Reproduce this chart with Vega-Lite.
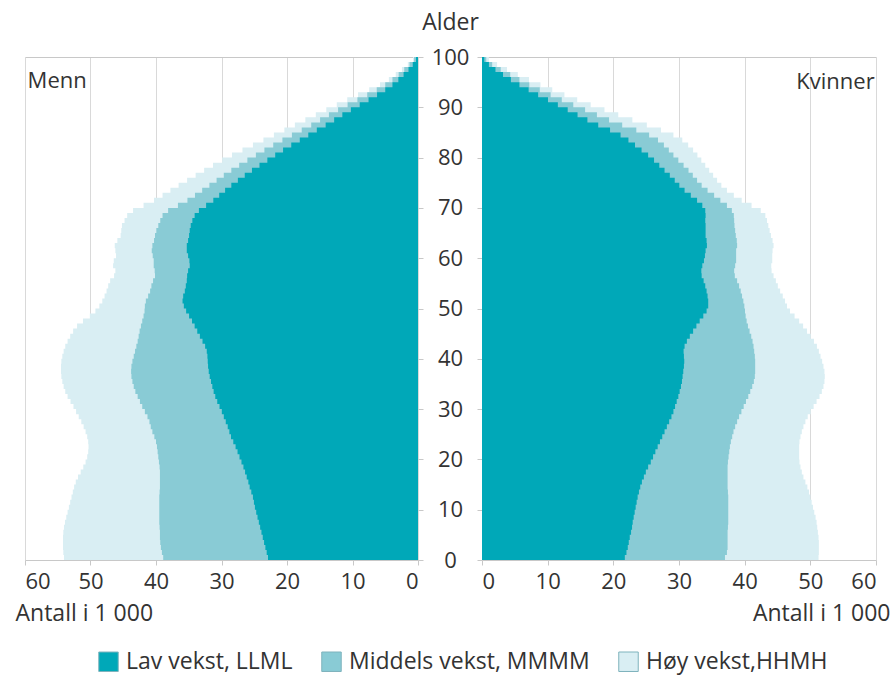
{
  "$schema": "https://vega.github.io/schema/vega-lite/v6.json",
  "padding": {"left": 15, "top": 11, "right": 5, "bottom": 8},
  "bounds": "flush",
  "spacing": 64,
  "config": {
    "font": "Open Sans",
    "view": {"stroke": null},
    "axis": {
      "labelFont": "Open Sans", "labelFontSize": 22, "labelColor": "#333333",
      "titleFont": "Open Sans", "titleFontSize": 23, "titleFontWeight": "normal", "titleColor": "#333333",
      "gridColor": "#d9d9d9", "domainColor": "#c8c8c8", "tickColor": "#c8c8c8"
    },
    "legend": {"labelFont": "Open Sans", "labelFontSize": 23, "labelColor": "#333333", "labelLimit": 400}
  },
  "datasets": {
    "pop": [
      {"a":0,"mL":22.8,"mM":38.8,"mH":54.0,"fL":21.6,"fM":36.8,"fH":51.2},
      {"a":1,"mL":23.0,"mM":39.0,"mH":54.1,"fL":21.9,"fM":37.2,"fH":51.3},
      {"a":2,"mL":23.2,"mM":39.2,"mH":54.2,"fL":22.1,"fM":37.4,"fH":51.3},
      {"a":3,"mL":23.4,"mM":39.3,"mH":54.2,"fL":22.3,"fM":37.4,"fH":51.3},
      {"a":4,"mL":23.6,"mM":39.4,"mH":54.2,"fL":22.4,"fM":37.4,"fH":51.3},
      {"a":5,"mL":23.8,"mM":39.4,"mH":54.2,"fL":22.6,"fM":37.4,"fH":51.2},
      {"a":6,"mL":24.0,"mM":39.4,"mH":54.1,"fL":22.8,"fM":37.4,"fH":51.1},
      {"a":7,"mL":24.2,"mM":39.5,"mH":54.0,"fL":22.9,"fM":37.5,"fH":51.0},
      {"a":8,"mL":24.4,"mM":39.5,"mH":53.8,"fL":23.0,"fM":37.5,"fH":50.9},
      {"a":9,"mL":24.6,"mM":39.5,"mH":53.6,"fL":23.2,"fM":37.5,"fH":50.7},
      {"a":10,"mL":24.8,"mM":39.5,"mH":53.4,"fL":23.3,"fM":37.5,"fH":50.5},
      {"a":11,"mL":25.0,"mM":39.5,"mH":53.2,"fL":23.5,"fM":37.5,"fH":50.3},
      {"a":12,"mL":25.1,"mM":39.5,"mH":53.0,"fL":23.6,"fM":37.5,"fH":50.1},
      {"a":13,"mL":25.3,"mM":39.5,"mH":52.8,"fL":23.8,"fM":37.5,"fH":49.9},
      {"a":14,"mL":25.6,"mM":39.4,"mH":52.6,"fL":24.0,"fM":37.4,"fH":49.7},
      {"a":15,"mL":25.8,"mM":39.4,"mH":52.4,"fL":24.2,"fM":37.4,"fH":49.4},
      {"a":16,"mL":26.0,"mM":39.4,"mH":52.1,"fL":24.5,"fM":37.4,"fH":49.1},
      {"a":17,"mL":26.3,"mM":39.4,"mH":51.7,"fL":24.8,"fM":37.4,"fH":48.8},
      {"a":18,"mL":26.5,"mM":39.4,"mH":51.3,"fL":25.1,"fM":37.4,"fH":48.6},
      {"a":19,"mL":26.8,"mM":39.5,"mH":50.9,"fL":25.5,"fM":37.4,"fH":48.4},
      {"a":20,"mL":27.1,"mM":39.6,"mH":50.6,"fL":25.9,"fM":37.5,"fH":48.3},
      {"a":21,"mL":27.4,"mM":39.7,"mH":50.4,"fL":26.2,"fM":37.6,"fH":48.3},
      {"a":22,"mL":27.7,"mM":39.8,"mH":50.3,"fL":26.6,"fM":37.7,"fH":48.3},
      {"a":23,"mL":28.0,"mM":39.9,"mH":50.3,"fL":26.9,"fM":37.8,"fH":48.3},
      {"a":24,"mL":28.4,"mM":40.1,"mH":50.4,"fL":27.3,"fM":38.0,"fH":48.4},
      {"a":25,"mL":28.7,"mM":40.4,"mH":50.6,"fL":27.6,"fM":38.2,"fH":48.6},
      {"a":26,"mL":28.9,"mM":40.7,"mH":50.9,"fL":28.0,"fM":38.4,"fH":48.8},
      {"a":27,"mL":29.2,"mM":40.9,"mH":51.2,"fL":28.3,"fM":38.7,"fH":49.1},
      {"a":28,"mL":29.5,"mM":41.1,"mH":51.6,"fL":28.7,"fM":39.0,"fH":49.4},
      {"a":29,"mL":29.8,"mM":41.5,"mH":52.0,"fL":29.0,"fM":39.3,"fH":49.8},
      {"a":30,"mL":30.1,"mM":41.9,"mH":52.4,"fL":29.3,"fM":39.7,"fH":50.3},
      {"a":31,"mL":30.5,"mM":42.3,"mH":52.8,"fL":29.5,"fM":40.0,"fH":50.7},
      {"a":32,"mL":30.8,"mM":42.6,"mH":53.3,"fL":29.8,"fM":40.4,"fH":51.2},
      {"a":33,"mL":31.1,"mM":43.0,"mH":53.7,"fL":30.0,"fM":40.7,"fH":51.6},
      {"a":34,"mL":31.3,"mM":43.3,"mH":54.0,"fL":30.2,"fM":41.0,"fH":51.9},
      {"a":35,"mL":31.5,"mM":43.5,"mH":54.2,"fL":30.4,"fM":41.3,"fH":52.1},
      {"a":36,"mL":31.7,"mM":43.7,"mH":54.4,"fL":30.5,"fM":41.5,"fH":52.2},
      {"a":37,"mL":31.9,"mM":43.8,"mH":54.5,"fL":30.6,"fM":41.6,"fH":52.2},
      {"a":38,"mL":32.0,"mM":43.8,"mH":54.5,"fL":30.7,"fM":41.6,"fH":52.1},
      {"a":39,"mL":32.1,"mM":43.7,"mH":54.5,"fL":30.8,"fM":41.6,"fH":51.9},
      {"a":40,"mL":32.1,"mM":43.5,"mH":54.4,"fL":30.8,"fM":41.6,"fH":51.7},
      {"a":41,"mL":32.2,"mM":43.3,"mH":54.2,"fL":30.7,"fM":41.5,"fH":51.4},
      {"a":42,"mL":32.3,"mM":43.1,"mH":54.0,"fL":30.7,"fM":41.4,"fH":51.2},
      {"a":43,"mL":32.7,"mM":42.9,"mH":53.7,"fL":31.0,"fM":41.3,"fH":50.8},
      {"a":44,"mL":33.1,"mM":42.7,"mH":53.3,"fL":31.4,"fM":41.1,"fH":50.3},
      {"a":45,"mL":33.5,"mM":42.6,"mH":52.9,"fL":31.9,"fM":40.9,"fH":49.8},
      {"a":46,"mL":33.9,"mM":42.4,"mH":52.4,"fL":32.4,"fM":40.6,"fH":49.2},
      {"a":47,"mL":34.3,"mM":42.2,"mH":51.7,"fL":32.9,"fM":40.4,"fH":48.6},
      {"a":48,"mL":34.7,"mM":42.0,"mH":50.6,"fL":33.4,"fM":40.2,"fH":48.0},
      {"a":49,"mL":35.2,"mM":41.8,"mH":49.6,"fL":34.0,"fM":40.1,"fH":47.2},
      {"a":50,"mL":35.6,"mM":41.7,"mH":48.9,"fL":34.4,"fM":40.0,"fH":46.6},
      {"a":51,"mL":35.9,"mM":41.7,"mH":48.4,"fL":34.5,"fM":39.9,"fH":46.3},
      {"a":52,"mL":36.0,"mM":41.4,"mH":48.0,"fL":34.4,"fM":39.7,"fH":46.0},
      {"a":53,"mL":35.7,"mM":41.0,"mH":47.7,"fL":34.3,"fM":39.5,"fH":45.6},
      {"a":54,"mL":35.5,"mM":40.8,"mH":47.4,"fL":34.1,"fM":39.3,"fH":45.2},
      {"a":55,"mL":35.4,"mM":40.6,"mH":47.2,"fL":33.9,"fM":39.0,"fH":44.9},
      {"a":56,"mL":35.2,"mM":40.3,"mH":46.8,"fL":33.6,"fM":38.7,"fH":44.6},
      {"a":57,"mL":35.3,"mM":40.0,"mH":46.0,"fL":33.3,"fM":38.3,"fH":44.2},
      {"a":58,"mL":34.9,"mM":40.4,"mH":46.4,"fL":33.5,"fM":38.5,"fH":44.0},
      {"a":59,"mL":34.8,"mM":40.3,"mH":46.7,"fL":33.6,"fM":38.6,"fH":44.1},
      {"a":60,"mL":35.0,"mM":40.4,"mH":46.2,"fL":34.0,"fM":38.8,"fH":44.3},
      {"a":61,"mL":35.2,"mM":40.6,"mH":46.0,"fL":33.9,"fM":38.6,"fH":44.1},
      {"a":62,"mL":35.4,"mM":40.7,"mH":46.4,"fL":34.2,"fM":38.8,"fH":44.4},
      {"a":63,"mL":35.2,"mM":40.4,"mH":46.2,"fL":34.3,"fM":38.9,"fH":44.4},
      {"a":64,"mL":35.0,"mM":40.2,"mH":45.6,"fL":34.1,"fM":38.7,"fH":44.1},
      {"a":65,"mL":34.9,"mM":40.1,"mH":45.2,"fL":34.0,"fM":38.6,"fH":43.9},
      {"a":66,"mL":34.8,"mM":39.8,"mH":45.4,"fL":34.1,"fM":38.5,"fH":43.7},
      {"a":67,"mL":34.6,"mM":39.5,"mH":45.0,"fL":34.0,"fM":38.4,"fH":43.5},
      {"a":68,"mL":34.3,"mM":39.2,"mH":44.6,"fL":34.0,"fM":38.4,"fH":43.3},
      {"a":69,"mL":33.9,"mM":38.8,"mH":44.2,"fL":34.1,"fM":38.3,"fH":43.0},
      {"a":70,"mL":33.0,"mM":37.5,"mH":42.8,"fL":33.9,"fM":37.8,"fH":41.9},
      {"a":71,"mL":31.7,"mM":35.8,"mH":41.0,"fL":33.2,"fM":36.8,"fH":40.2},
      {"a":72,"mL":30.8,"mM":34.6,"mH":39.6,"fL":32.3,"fM":35.8,"fH":38.9},
      {"a":73,"mL":29.9,"mM":33.5,"mH":38.4,"fL":31.3,"fM":34.9,"fH":37.8},
      {"a":74,"mL":29.0,"mM":32.4,"mH":37.2,"fL":30.4,"fM":33.8,"fH":36.8},
      {"a":75,"mL":28.0,"mM":31.3,"mH":35.9,"fL":29.7,"fM":33.1,"fH":36.1},
      {"a":76,"mL":27.0,"mM":30.2,"mH":34.6,"fL":29.0,"fM":32.4,"fH":35.5},
      {"a":77,"mL":25.9,"mM":29.1,"mH":33.3,"fL":28.2,"fM":31.8,"fH":34.9},
      {"a":78,"mL":24.8,"mM":27.9,"mH":32.0,"fL":27.4,"fM":31.1,"fH":34.3},
      {"a":79,"mL":23.6,"mM":26.7,"mH":30.6,"fL":26.6,"fM":30.3,"fH":33.7},
      {"a":80,"mL":22.4,"mM":25.4,"mH":29.2,"fL":25.8,"fM":29.5,"fH":33.1},
      {"a":81,"mL":21.2,"mM":24.1,"mH":27.6,"fL":24.8,"fM":28.8,"fH":32.5},
      {"a":82,"mL":20.0,"mM":22.8,"mH":26.0,"fL":23.8,"fM":28.1,"fH":31.8},
      {"a":83,"mL":18.7,"mM":21.4,"mH":24.4,"fL":22.8,"fM":27.3,"fH":31.0},
      {"a":84,"mL":17.4,"mM":20.0,"mH":22.8,"fL":21.8,"fM":26.3,"fH":30.0},
      {"a":85,"mL":16.1,"mM":18.5,"mH":21.2,"fL":20.4,"fM":24.6,"fH":28.3},
      {"a":86,"mL":14.8,"mM":17.0,"mH":19.6,"fL":18.6,"fM":22.4,"fH":26.2},
      {"a":87,"mL":13.4,"mM":15.6,"mH":18.0,"fL":16.8,"fM":20.3,"fH":24.0},
      {"a":88,"mL":12.2,"mM":14.3,"mH":16.4,"fL":15.3,"fM":18.4,"fH":21.8},
      {"a":89,"mL":10.9,"mM":12.9,"mH":14.8,"fL":13.8,"fM":16.6,"fH":19.7},
      {"a":90,"mL":9.6,"mM":11.5,"mH":13.2,"fL":12.3,"fM":14.8,"fH":17.6},
      {"a":91,"mL":8.2,"mM":10.0,"mH":11.6,"fL":10.8,"fM":13.0,"fH":15.5},
      {"a":92,"mL":6.9,"mM":8.5,"mH":10.0,"fL":9.3,"fM":11.3,"fH":13.5},
      {"a":93,"mL":5.6,"mM":7.0,"mH":8.3,"fL":7.8,"fM":9.6,"fH":11.6},
      {"a":94,"mL":4.4,"mM":5.6,"mH":6.6,"fL":6.4,"fM":8.0,"fH":9.8},
      {"a":95,"mL":3.4,"mM":4.4,"mH":5.0,"fL":5.0,"fM":6.4,"fH":8.0},
      {"a":96,"mL":2.6,"mM":3.4,"mH":3.9,"fL":3.8,"fM":5.0,"fH":6.3},
      {"a":97,"mL":1.8,"mM":2.5,"mH":2.9,"fL":2.6,"fM":3.6,"fH":4.6},
      {"a":98,"mL":1.1,"mM":1.7,"mH":2.0,"fL":1.5,"fM":2.1,"fH":3.0},
      {"a":99,"mL":0.5,"mM":0.9,"mH":1.1,"fL":0.6,"fM":1.0,"fH":1.6},
      {"a":100,"mL":0.1,"mM":0.3,"mH":0.4,"fL":0.1,"fM":0.3,"fH":0.5}
    ]
  },
  "hconcat": [
    {
      "width": 393,
      "height": 503,
      "data": {"name": "pop"},
      "resolve": {"axis": {"x": "independent"}},
      "layer": [
        {
          "mark": {"type": "area", "orient": "horizontal", "interpolate": "step"},
          "encoding": {
            "y": {"field": "a", "type": "quantitative", "scale": {"domain": [0, 100], "nice": false},
                  "axis": {"orient": "right", "values": [0,10,20,30,40,50,60,70,80,90,100], "labels": false, "tickSize": 5, "domain": false, "grid": false, "title": null}},
            "x": {"field": "mH", "type": "quantitative", "scale": {"domain": [0, 60], "reverse": true, "nice": false},
                  "axis": {"values": [0,10,20,30,40,50,60], "grid": true, "tickSize": 5, "labelPadding": 6, "title": "Antall i 1 000", "titleAlign": "left", "titleBaseline": "middle", "titleX": -10, "titleY": 53}},
            "color": {"datum": "H", "type": "nominal",
                      "scale": {"domain": ["L", "M", "H"], "range": ["#00a8b8", "#89cbd5", "#d9eef3"]},
                      "legend": {"orient": "none", "legendX": 72, "legendY": 593, "direction": "horizontal", "title": null,
                                 "symbolType": "square", "symbolSize": 380, "symbolStrokeWidth": 1, "symbolStrokeColor": "#7fb3bd",
                                 "columnPadding": 26, "labelOffset": 6,
                                 "labelExpr": "datum.label == 'L' ? 'Lav vekst, LLML' : datum.label == 'M' ? 'Middels vekst, MMMM' : 'Høy vekst,HHMH'"}}
          }
        },
        {
          "mark": {"type": "area", "orient": "horizontal", "interpolate": "step"},
          "encoding": {
            "y": {"field": "a", "type": "quantitative",
                  "axis": {"orient": "right", "values": [0,10,20,30,40,50,60,70,80,90,100], "labels": false, "tickSize": 5, "domain": false, "grid": false, "title": null}},
            "x": {"field": "mM", "type": "quantitative", "axis": null},
            "color": {"datum": "M", "type": "nominal"}
          }
        },
        {
          "mark": {"type": "area", "orient": "horizontal", "interpolate": "step"},
          "encoding": {
            "y": {"field": "a", "type": "quantitative",
                  "axis": {"orient": "right", "values": [0,10,20,30,40,50,60,70,80,90,100], "labels": false, "tickSize": 5, "domain": false, "grid": false, "title": null}},
            "x": {"field": "mL", "type": "quantitative", "axis": null},
            "color": {"datum": "L", "type": "nominal"}
          }
        },
        {
          "data": {"values": [{}]},
          "mark": {"type": "text", "align": "left", "baseline": "middle", "fontSize": 22, "color": "#333333", "font": "Open Sans"},
          "encoding": {
            "x": {"datum": 59.6, "type": "quantitative",
                  "axis": {"orient": "top", "labels": false, "ticks": false, "domain": true, "grid": false, "title": null}},
            "y": {"datum": 95.3, "type": "quantitative",
                  "axis": {"orient": "right", "values": [0,10,20,30,40,50,60,70,80,90,100], "labels": false, "tickSize": 5, "domain": false, "grid": false, "title": null}},
            "text": {"value": "Menn"}
          }
        }
      ]
    },
    {
      "width": 394,
      "height": 503,
      "data": {"name": "pop"},
      "resolve": {"axis": {"x": "independent"}},
      "layer": [
        {
          "mark": {"type": "area", "orient": "horizontal", "interpolate": "step"},
          "encoding": {
            "y": {"field": "a", "type": "quantitative", "scale": {"domain": [0, 100], "nice": false},
                  "axis": {"orient": "left", "values": [0,10,20,30,40,50,60,70,80,90,100], "tickSize": 5, "domain": false, "grid": false,
                           "labelAlign": "center", "labelBaseline": "middle", "labelPadding": 27,
                           "title": "Alder", "titleAngle": 0, "titleAlign": "center", "titleBaseline": "middle", "titleX": -32, "titleY": -35}},
            "x": {"field": "fH", "type": "quantitative", "scale": {"domain": [0, 60], "nice": false},
                  "axis": {"values": [0,10,20,30,40,50,60], "grid": true, "tickSize": 5, "labelPadding": 6, "title": "Antall i 1 000", "titleAlign": "right", "titleBaseline": "middle", "titleX": 408, "titleY": 53}},
            "color": {"datum": "H", "type": "nominal"}
          }
        },
        {
          "mark": {"type": "area", "orient": "horizontal", "interpolate": "step"},
          "encoding": {
            "y": {"field": "a", "type": "quantitative",
                  "axis": {"orient": "left", "values": [0,10,20,30,40,50,60,70,80,90,100], "tickSize": 5, "domain": false, "grid": false,
                           "labelAlign": "center", "labelBaseline": "middle", "labelPadding": 27,
                           "title": "Alder", "titleAngle": 0, "titleAlign": "center", "titleBaseline": "middle", "titleX": -32, "titleY": -35}},
            "x": {"field": "fM", "type": "quantitative", "axis": null},
            "color": {"datum": "M", "type": "nominal"}
          }
        },
        {
          "mark": {"type": "area", "orient": "horizontal", "interpolate": "step"},
          "encoding": {
            "y": {"field": "a", "type": "quantitative",
                  "axis": {"orient": "left", "values": [0,10,20,30,40,50,60,70,80,90,100], "tickSize": 5, "domain": false, "grid": false,
                           "labelAlign": "center", "labelBaseline": "middle", "labelPadding": 27,
                           "title": "Alder", "titleAngle": 0, "titleAlign": "center", "titleBaseline": "middle", "titleX": -32, "titleY": -35}},
            "x": {"field": "fL", "type": "quantitative", "axis": null},
            "color": {"datum": "L", "type": "nominal"}
          }
        },
        {
          "data": {"values": [{}]},
          "mark": {"type": "text", "align": "right", "baseline": "middle", "fontSize": 22, "color": "#333333", "font": "Open Sans"},
          "encoding": {
            "x": {"datum": 59.8, "type": "quantitative",
                  "axis": {"orient": "top", "labels": false, "ticks": false, "domain": true, "grid": false, "title": null}},
            "y": {"datum": 95.0, "type": "quantitative",
                  "axis": {"orient": "left", "values": [0,10,20,30,40,50,60,70,80,90,100], "tickSize": 5, "domain": false, "grid": false,
                           "labelAlign": "center", "labelBaseline": "middle", "labelPadding": 27,
                           "title": "Alder", "titleAngle": 0, "titleAlign": "center", "titleBaseline": "middle", "titleX": -32, "titleY": -35}},
            "text": {"value": "Kvinner"}
          }
        }
      ]
    }
  ]
}
